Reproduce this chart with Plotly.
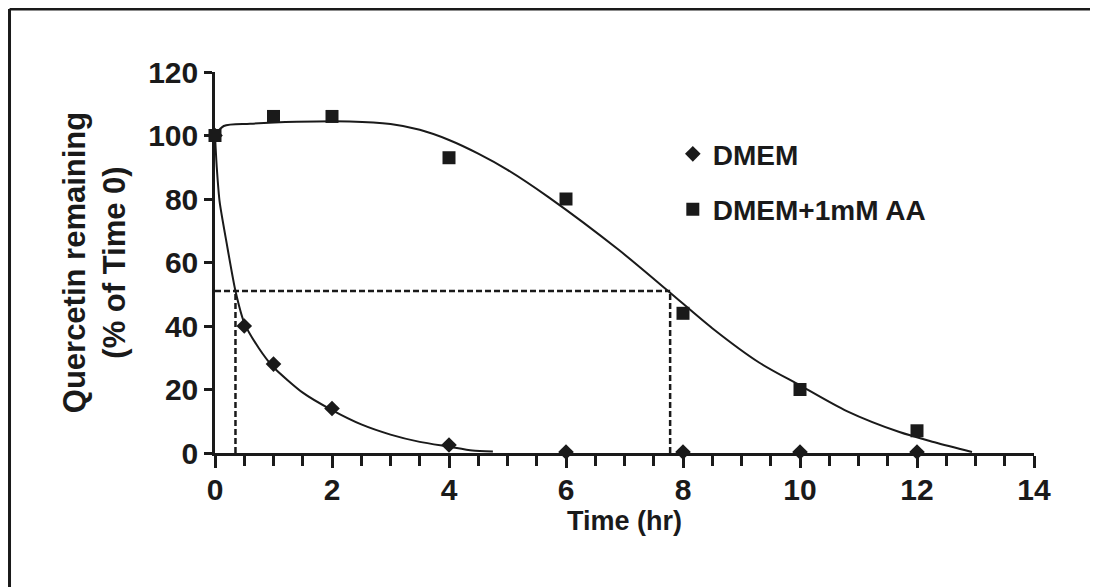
import plotly.graph_objects as go

# Measured data
dmem_time = [0, 0.5, 1, 2, 4, 6, 8, 10, 12]
dmem_pct = [100, 40, 28, 14, 2.5, 0.3, 0.3, 0.3, 0.3]
aa_time = [0, 1, 2, 4, 6, 8, 10, 12]
aa_pct = [100, 106, 106, 93, 80, 44, 20, 7]

# Fitted curves
dmem_fit_x = [0, 0.03, 0.08, 0.2, 0.35, 0.5, 0.75, 1.0, 1.5, 2.0, 2.5, 3.0, 3.5, 4.0, 4.4, 4.75]
dmem_fit_y = [100, 90, 79, 66, 51, 41, 33, 27, 19, 13.5, 9, 5.8, 3.5, 2, 0.8, 0.5]
aa_fit_x = [0, 0.15, 0.6, 1.4, 2.3, 3.0, 3.5, 4.0, 4.5, 5.0, 5.7, 6.9, 7.76, 8.5, 9.3, 10.0, 10.8, 11.7, 12.3, 12.94]
aa_fit_y = [100, 103, 103.7, 104.3, 104.4, 103.6, 101.8, 98.6, 94.3, 89.2, 80.6, 64.0, 50.8, 39.3, 28.5, 21.3, 13.2, 6.6, 3.4, 0.3]

# Half-life guide lines
half_level = 51
dmem_half_t = 0.35
aa_half_t = 7.78

x_ticks = [0, 2, 4, 6, 8, 10, 12, 14]
y_ticks = [0, 20, 40, 60, 80, 100, 120]

FONT = "Liberation Sans"
BLACK = "#1a1a1a"

fig = go.Figure()

dash_style = dict(color=BLACK, width=2.5, dash="6px,3px")
fig.add_trace(go.Scatter(x=[0, aa_half_t], y=[half_level, half_level], mode="lines",
                         line=dash_style, showlegend=False, hoverinfo="skip"))
fig.add_trace(go.Scatter(x=[dmem_half_t, dmem_half_t], y=[0, half_level], mode="lines",
                         line=dash_style, showlegend=False, hoverinfo="skip"))
fig.add_trace(go.Scatter(x=[aa_half_t, aa_half_t], y=[0, half_level], mode="lines",
                         line=dash_style, showlegend=False, hoverinfo="skip"))

fig.add_trace(go.Scatter(x=dmem_fit_x, y=dmem_fit_y, mode="lines",
                         line=dict(color=BLACK, width=2, shape="spline", smoothing=0.6),
                         showlegend=False, hoverinfo="skip"))
fig.add_trace(go.Scatter(x=aa_fit_x, y=aa_fit_y, mode="lines",
                         line=dict(color=BLACK, width=2, shape="spline", smoothing=0.8),
                         showlegend=False, hoverinfo="skip"))

fig.add_trace(go.Scatter(x=dmem_time, y=dmem_pct, mode="markers", name="DMEM",
                         marker=dict(symbol="diamond", size=12, color=BLACK), cliponaxis=False, legendgroup="a"))
fig.add_trace(go.Scatter(x=aa_time, y=aa_pct, mode="markers", name="DMEM+1mM AA",
                         marker=dict(symbol="square", size=13, color=BLACK), cliponaxis=False, legendgroup="b"))

axis_common = dict(showgrid=False, zeroline=False, showline=True, linecolor=BLACK, linewidth=2.5,
                   ticks="outside", tickcolor=BLACK, tickwidth=2.5,
                   tickfont=dict(family=FONT, size=30, color=BLACK, weight="bold"))

fig.update_layout(
    width=1090, height=579, autosize=False,
    paper_bgcolor="white", plot_bgcolor="white",
    margin=dict(l=207, r=64, t=64, b=134),
    xaxis=dict(range=[0, 14], tickvals=x_ticks, ticklen=12, ticklabelstandoff=-4,
               minor=dict(dtick=0.5, ticks="outside", ticklen=10, tickwidth=2.5, tickcolor=BLACK),
               title=dict(text="Time (hr)", font=dict(family=FONT, size=27, color=BLACK, weight="bold"), standoff=2),
               **axis_common),
    yaxis=dict(range=[0, 120], tickvals=y_ticks, ticklen=8,
               title=dict(text="Quercetin remaining<br>(% of Time 0)",
                          font=dict(family=FONT, size=31, color=BLACK, weight="bold"), standoff=14),
               **axis_common),
    legend=dict(x=0.559, y=0.85, xanchor="left", yanchor="top", bgcolor="rgba(0,0,0,0)",
                font=dict(family=FONT, size=28, color=BLACK, weight="bold"), tracegroupgap=16,
                traceorder="grouped"),
    shapes=[
        dict(type="line", xref="paper", yref="paper", x0=-0.2509, x1=1.1, y0=1.1654, y1=1.1654,
             line=dict(color=BLACK, width=3)),
        dict(type="line", xref="paper", yref="paper", x0=-0.2509, x1=-0.2509, y0=-0.4, y1=1.1654,
             line=dict(color=BLACK, width=3)),
    ],
)

fig.write_html("out.html")
